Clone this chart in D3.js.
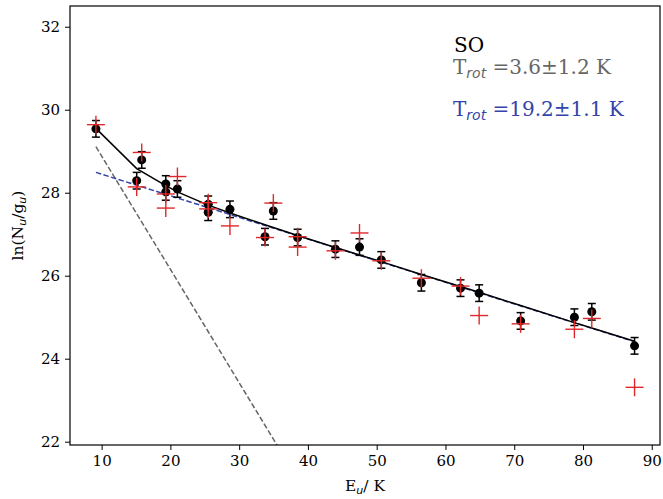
<!DOCTYPE html>
<html><head><meta charset="utf-8">
<script src="https://cdn.jsdelivr.net/npm/d3@7"></script>
<style>
body{margin:0;background:#fff;}
text{font-family:"DejaVu Serif",serif;}
</style></head>
<body><svg id="c" width="663" height="499"></svg>
<script>
// Observed points (black, with error bars)
const obsE   = [9.17, 15.1, 15.83, 19.33, 19.33, 21.02, 25.5, 25.5, 28.66, 33.76, 34.97, 38.5, 44.0, 47.5, 50.67, 56.5, 62.19, 64.9, 70.93, 78.75, 81.28, 87.5];
const obsLn  = [29.54, 28.29, 28.79, 28.21, 28.02, 28.09, 27.72, 27.53, 27.60, 26.94, 27.56, 26.92, 26.64, 26.69, 26.38, 25.83, 25.70, 25.58, 24.91, 25.00, 25.13, 24.31];
const obsErr = [0.2, 0.2, 0.2, 0.2, 0.2, 0.2, 0.2, 0.2, 0.2, 0.2, 0.2, 0.2, 0.2, 0.2, 0.2, 0.2, 0.2, 0.2, 0.2, 0.2, 0.2, 0.2];
// Model points (red plus)
const modE  = [9.17, 15.1, 15.83, 19.33, 19.33, 21.02, 25.5, 25.5, 28.66, 33.76, 34.97, 38.5, 38.5, 44.0, 47.5, 50.67, 56.5, 62.19, 64.9, 70.93, 78.75, 81.28, 87.5];
const modLn = [29.64, 28.14, 28.97, 27.97, 27.63, 28.39, 27.76, 27.61, 27.20, 26.92, 27.75, 26.94, 26.69, 26.60, 27.03, 26.36, 25.94, 25.75, 25.04, 24.84, 24.71, 24.97, 23.31];
// Two-component fit curve (black)
const fitE  = [9.17, 15.1, 19.33, 21.02, 25.5, 28.66, 33.76, 34.97, 38.5, 44.0, 47.5, 50.67, 56.5, 62.19, 64.9, 70.93, 78.75, 81.28, 87.5];
const fitLn = [29.55, 28.58, 28.17, 28.02, 27.70, 27.51, 27.23, 27.16, 26.97, 26.68, 26.50, 26.34, 26.03, 25.74, 25.60, 25.28, 24.87, 24.74, 24.42];
// Single-component lines
const coldE  = [9.17, 87.5];
const coldLn = [29.11, 7.72];
const warmE  = [9.17, 87.5];
const warmLn = [28.49, 24.41];
const xTicks = [10, 20, 30, 40, 50, 60, 70, 80, 90];
const yTicks = [22, 24, 26, 28, 30, 32];

const svg = d3.select("#c");
const L = 70, R = 660, T = 6, B = 445;
const x = d3.scaleLinear().domain([5.4, 91.2]).range([L, R]);
const y = d3.scaleLinear().domain([21.92, 32.5]).range([B, T]);

svg.append("defs").append("clipPath").attr("id","clip")
  .append("rect").attr("x",L).attr("y",T).attr("width",R-L).attr("height",B-T);
const g = svg.append("g").attr("clip-path","url(#clip)");

const line = d3.line().x(d=>x(d[0])).y(d=>y(d[1]));
g.append("path").datum(coldE.map((e,i)=>[e,coldLn[i]])).attr("d",line)
  .attr("fill","none").attr("stroke","#666").attr("stroke-width",1.5).attr("stroke-dasharray","5.5,2.4");
g.append("path").datum(warmE.map((e,i)=>[e,warmLn[i]])).attr("d",line)
  .attr("fill","none").attr("stroke","#3344aa").attr("stroke-width",1.5).attr("stroke-dasharray","5.5,2.4");
g.append("path").datum(fitE.map((e,i)=>[e,fitLn[i]])).attr("d",line)
  .attr("fill","none").attr("stroke","#000").attr("stroke-width",1.5);

// error bars
obsE.forEach((e,i)=>{
  const cx = x(e), y1 = y(obsLn[i]+obsErr[i]), y2 = y(obsLn[i]-obsErr[i]);
  g.append("line").attr("x1",cx).attr("x2",cx).attr("y1",y1).attr("y2",y2).attr("stroke","#000").attr("stroke-width",1.5);
  [y1,y2].forEach(yy=>g.append("line").attr("x1",cx-4).attr("x2",cx+4).attr("y1",yy).attr("y2",yy).attr("stroke","#000").attr("stroke-width",1.5));
});
g.selectAll("circle.o").data(obsE).enter().append("circle")
  .attr("cx",d=>x(d)).attr("cy",(d,i)=>y(obsLn[i])).attr("r",4.5).attr("fill","#000");

// red plus
modE.forEach((e,i)=>{
  const cx = x(e), cy = y(modLn[i]), s = 9;
  g.append("line").attr("x1",cx-s).attr("x2",cx+s).attr("y1",cy).attr("y2",cy).attr("stroke","#e0282a").attr("stroke-width",1.4);
  g.append("line").attr("x1",cx).attr("x2",cx).attr("y1",cy-s).attr("y2",cy+s).attr("stroke","#e0282a").attr("stroke-width",1.4);
});

// frame
svg.append("rect").attr("x",L).attr("y",T).attr("width",R-L).attr("height",B-T)
  .attr("fill","none").attr("stroke","#000").attr("stroke-width",1.2);

const xa = svg.append("g").attr("transform",`translate(0,${B})`)
  .call(d3.axisBottom(x).tickValues(xTicks).tickSize(5).tickPadding(5).tickFormat(d3.format("d")));
const ya = svg.append("g").attr("transform",`translate(${L},0)`)
  .call(d3.axisLeft(y).tickValues(yTicks).tickSize(5).tickPadding(5).tickFormat(d3.format("d")));
[xa,ya].forEach(a=>{
  a.select(".domain").remove();
  a.selectAll("line").attr("stroke","#000").attr("stroke-width",1);
  a.selectAll("text").attr("font-family","DejaVu Serif").attr("font-size",15).attr("fill","#000");
});

// axis labels
const xl = svg.append("text").attr("x",(L+R)/2).attr("y",491).attr("text-anchor","middle").attr("font-size",15.5);
xl.append("tspan").text("E");
xl.append("tspan").attr("font-family","DejaVu Sans").attr("font-style","italic").attr("font-size",11).attr("dy",3).text("u");
xl.append("tspan").attr("dy",-3).text("/ K");

const yl = svg.append("text").attr("transform",`translate(23,${(T+B)/2}) rotate(-90)`).attr("text-anchor","middle").attr("font-size",15.5);
yl.append("tspan").text("ln(N");
yl.append("tspan").attr("font-family","DejaVu Sans").attr("font-style","italic").attr("font-size",11).attr("dy",3).text("u");
yl.append("tspan").attr("dy",-3).text("/g");
yl.append("tspan").attr("font-family","DejaVu Sans").attr("font-style","italic").attr("font-size",11).attr("dy",3).text("u");
yl.append("tspan").attr("dy",-3).text(")");

// annotations
svg.append("text").attr("x",454).attr("y",52).attr("font-size",20).attr("fill","#000").text("SO");
function trot(yy, val, col){
  const t = svg.append("text").attr("x",453).attr("y",yy).attr("font-size",20).attr("fill",col);
  t.append("tspan").text("T");
  t.append("tspan").attr("font-family","DejaVu Sans").attr("font-style","italic").attr("font-size",14).attr("dy",4).text("rot");
  t.append("tspan").attr("dy",-4).text(" =" + val);
}
trot(74, "3.6±1.2 K", "#666");
trot(116, "19.2±1.1 K", "#3344aa");
</script></body></html>
